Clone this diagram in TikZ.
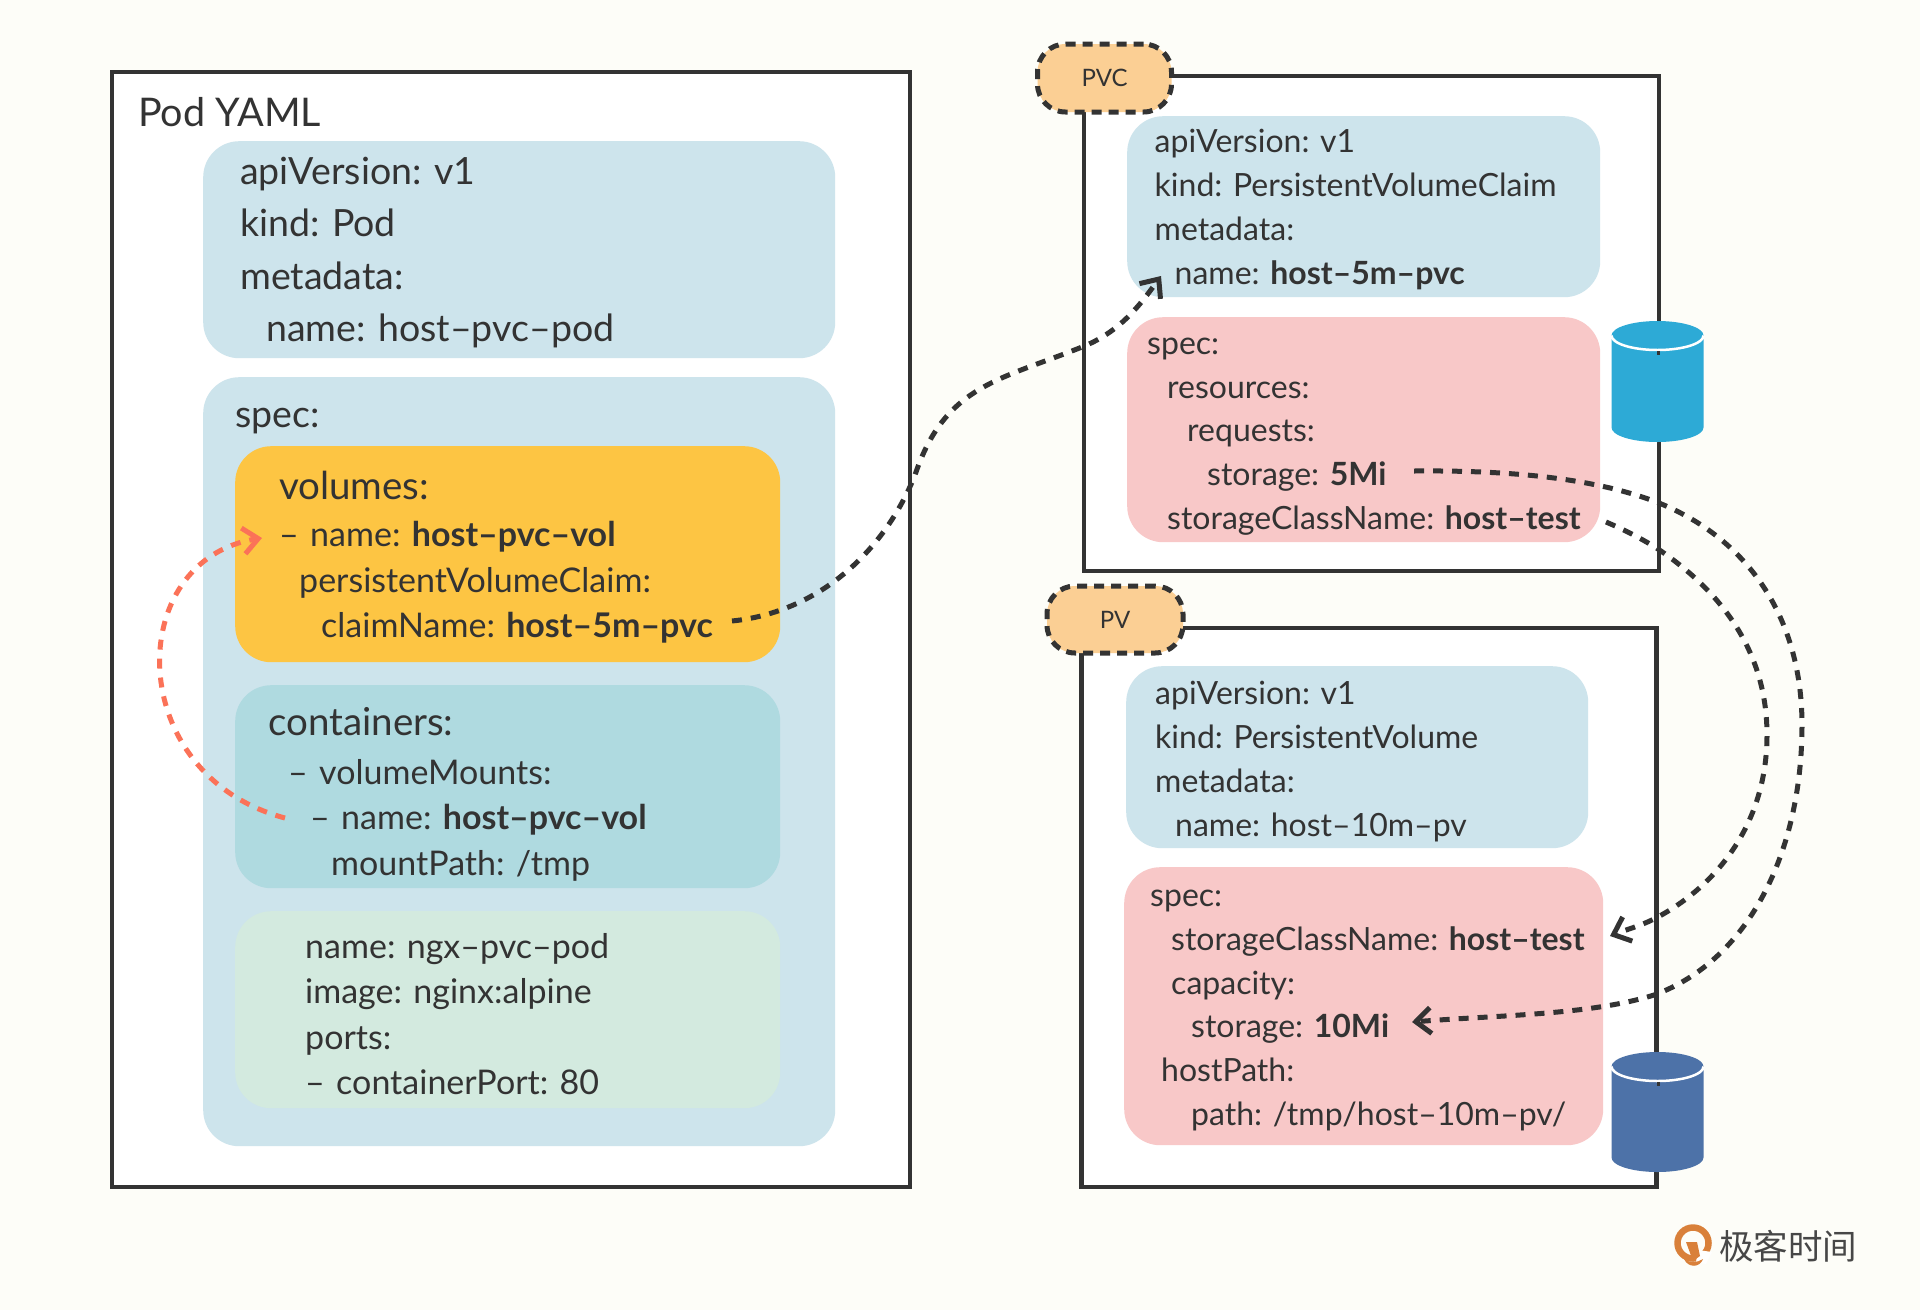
\documentclass[tikz,border=0pt]{standalone}
\usepackage{fontspec}
\setmainfont{Lato}
\newfontfamily\cjkfont{Noto Sans CJK SC}
\usetikzlibrary{arrows.meta}
\frenchspacing
\definecolor{pagebg}{HTML}{FDFDF8}
\definecolor{inkline}{HTML}{333333}
\definecolor{metablue}{HTML}{CDE4EC}
\definecolor{specpink}{HTML}{F8C8C8}
\definecolor{volyellow}{HTML}{FDC543}
\definecolor{contteal}{HTML}{AFDAE0}
\definecolor{imggreen}{HTML}{D3EADF}
\definecolor{badgeorange}{HTML}{FBCF94}
\definecolor{linkred}{HTML}{FB7258}
\definecolor{drumcyan}{HTML}{2DAAD6}
\definecolor{drumblue}{HTML}{4D72A8}
\definecolor{logoorange}{HTML}{D9803A}
\newcommand{\ind}[1]{\hspace*{#1pt}}
% x, top centre, bottom centre, colour
\newcommand{\drum}[4]{
  \fill[#4] (#1-46,#2) arc [start angle=180, end angle=0, x radius=46pt, y radius=14.5pt]
    -- (#1+46,#3) arc [start angle=0, end angle=-180, x radius=46pt, y radius=14.5pt] -- cycle;
  \draw[white, line width=2.5pt] (#1-46,#2) arc [start angle=180, end angle=360, x radius=46pt, y radius=14.5pt];
  \draw[inkline, line width=3pt] (#1+1,#2+15.5) -- (#1+1,#2+19);
}
\tikzset{
  frame/.style = {draw=inkline, line width=4.5pt, fill=white, minimum width=#1, anchor=north west, inner sep=0pt},
  panel/.style = {rounded corners=36pt, anchor=north west, inner sep=0pt, align=left, text=inkline},
  push/.style = {execute at begin node={\rule{0pt}{#1pt}}},
  bigtext/.style = {font=\fontsize{37.5}{52.5}\selectfont},
  midtext/.style = {font=\fontsize{34}{45.5}\selectfont},
  smalltext/.style = {font=\fontsize{32}{43.7}\selectfont},
  badge/.style = {draw=inkline, fill=badgeorange, line width=5pt, dash pattern=on 10pt off 7pt, rounded corners=28pt, text=inkline, font=\fontsize{24}{28}\selectfont},
  link/.style = {draw=inkline, line width=5pt, dash pattern=on 10pt off 9pt, -{Straight Barb[length=15pt,width=26pt,line width=5pt]}}
}
\begin{document}
\begin{tikzpicture}[x=1pt, y=-1pt]
\path[fill=pagebg, use as bounding box] (0,0) rectangle (1920,1310);

% left box
\node[frame=798pt, minimum height=1115pt] (podframe) at (109.5,69.5) {};
\node[text=inkline, font=\fontsize{39.5}{44}\selectfont, anchor=west, inner sep=0pt] (podtitle) at (138,112) {Pod YAML};

\node[panel, bigtext, push=33, fill=metablue, minimum width=632pt, minimum height=217pt, text width=558pt] (podmeta) at (203,141)
  {apiVersion: v1\\ kind: Pod\\ metadata:\\ \ind{26}name: host–pvc–pod};
\node[panel, fill=metablue, minimum width=632pt, minimum height=769pt] (podspec) at (203,377) {};
\node[bigtext, text=inkline, anchor=west, inner sep=0pt] (speclabel) at (235,421.5) {spec:};

\node[panel, midtext, push=34, fill=volyellow, minimum width=545pt, minimum height=216pt, text width=457pt] (volumes) at (235,446)
  {{\fontsize{38.5}{45.5}\selectfont volumes:}\\[2pt] – name: \textbf{host–pvc–vol}\\ \ind{20}persistentVolumeClaim:\\ \ind{42}claimName: \textbf{host–5m–pvc}};
\node[panel, midtext, push=43, fill=contteal, minimum width=545pt, minimum height=203pt, text width=479pt] (containers) at (235,685)
  {{\fontsize{38.5}{45.5}\selectfont containers:}\\[3pt] \ind{20}– volumeMounts:\\ \ind{42}– name: \textbf{host–pvc–vol}\\ \ind{63}mountPath: /tmp};
\node[panel, midtext, push=34, fill=imggreen, minimum width=545pt, minimum height=197pt, text width=405pt] (image) at (235,911)
  {name: ngx–pvc–pod\\ image: nginx:alpine\\ ports:\\ – containerPort: 80};

% pvc box
\node[frame=575pt, minimum height=495pt] (pvcframe) at (1081.5,73.5) {};
\node[panel, smalltext, push=29, fill=metablue, minimum width=473pt, minimum height=181pt, text width=418pt] (pvcmeta) at (1127,116)
  {apiVersion: v1\\ kind: PersistentVolumeClaim\\ metadata:\\ \ind{20}name: \textbf{host–5m–pvc}};
\node[panel, smalltext, push=30, fill=specpink, minimum width=473pt, minimum height=225pt, text width=433pt] (pvcspec) at (1127,317)
  {spec:\\ \ind{20}resources:\\ \ind{40}requests:\\ \ind{60}storage: \textbf{5Mi}\\ \mbox{\ind{20}storageClassName: \textbf{host–test}}};
\node[badge, minimum width=134pt, minimum height=68pt] (pvcbadge) at (1104.5,78) {PVC};
\drum{1657.5}{335.5}{427.5}{drumcyan}

% pv box
\node[frame=575pt, minimum height=559pt] (pvframe) at (1079,625.5) {};
\node[panel, smalltext, push=32, fill=metablue, minimum width=462pt, minimum height=182pt, text width=404pt] (pvmeta) at (1126,666)
  {apiVersion: v1\\ kind: PersistentVolume\\ metadata:\\ \ind{20}name: host–10m–pv};
\node[panel, smalltext, push=25, fill=specpink, minimum width=479pt, minimum height=278pt, text width=427pt] (pvspec) at (1124,867)
  {spec:\\ \mbox{\ind{21}storageClassName: \textbf{host–test}}\\ \ind{21}capacity:\\ \ind{41}storage: \textbf{10Mi}\\ \ind{11}hostPath:\\ \ind{41}path: /tmp/host–10m–pv/};
\node[badge, minimum width=136pt, minimum height=67pt] (pvbadge) at (1115,619.5) {PV};
\drum{1657.5}{1066.5}{1157.5}{drumblue}

% links
\coordinate (claimstart) at (732,621);
\coordinate (claimtip) at (1161,276);
\coordinate (mountstart) at (285,818);
\coordinate (voltip) at (262,538);
\coordinate (sizestart) at (1414,471);
\coordinate (sizetip) at (1412,1022);
\coordinate (classstart) at (1606,522);
\coordinate (classtip) at (1610,936);

\draw[link] (claimstart) .. controls (820,612) and (885,550) .. (915,475) .. controls (945,385) and (1000,380) .. (1082,347) .. controls (1120,332) and (1140,305) .. (claimtip);
\draw[link, draw=linkred] (mountstart) .. controls (123,775) and (123,560) .. (voltip);
\draw[link] (sizestart) .. controls (1520,470) and (1600,480) .. (1659,503) .. controls (1750,540) and (1802,620) .. (1802,725) .. controls (1802,850) and (1750,960) .. (1654,995) .. controls (1590,1015) and (1500,1015) .. (sizetip);
\draw[link] (classstart) .. controls (1625,530) and (1640,538) .. (1655,547) .. controls (1720,590) and (1767,650) .. (1767,735) .. controls (1767,820) and (1720,885) .. (1654,919) .. controls (1640,926) and (1625,930) .. (classtip);

% logo
\node[circle, draw=logoorange, line width=6.5pt, minimum size=31pt, inner sep=0pt] (logomark) at (1693,1243) {};
\fill[white] (1698,1250) -- (1712,1252) -- (1706,1264) -- (1696,1262) -- cycle;
\fill[logoorange] (1686,1242) -- (1697,1242) -- (1700,1256) -- (1693,1261) -- cycle;
\fill[logoorange] (1684,1259) .. controls (1690,1263) and (1697,1263) .. (1703,1259) .. controls (1700,1268) and (1688,1268) .. cycle;
\node[anchor=west, inner sep=0pt, text=inkline!90!white, font=\cjkfont\fontsize{34.5}{38}\selectfont] (logotext) at (1719,1246) {极客时间};
\end{tikzpicture}
\end{document}
